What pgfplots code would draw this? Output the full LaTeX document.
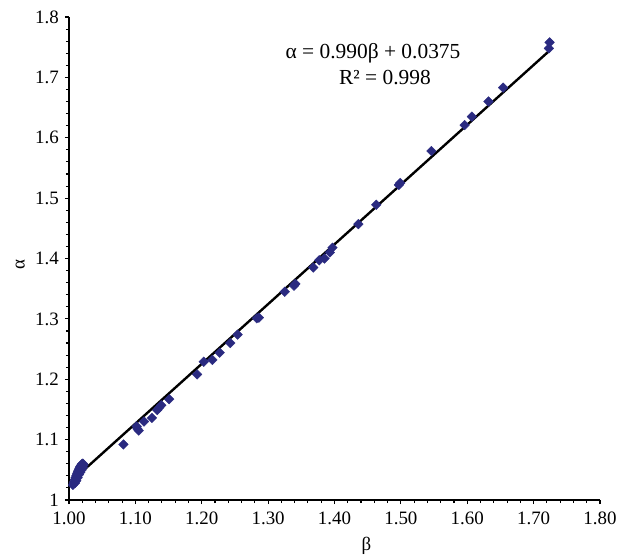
\documentclass[border=0pt]{standalone}
\usepackage{pgfplots}
\pgfplotsset{compat=1.18}
\usepackage{fontspec}
\setmainfont{Liberation Serif}
\definecolor{navy}{RGB}{42,42,128}
\pgfplotstableread{
b a
1.006 1.025
1.007 1.028
1.008 1.031
1.009 1.034
1.010 1.037
1.011 1.040
1.012 1.043
1.013 1.046
1.014 1.048
1.015 1.051
1.016 1.053
1.017 1.055
1.018 1.057
1.019 1.058
1.020 1.060
1.021 1.060
1.022 1.058
1.021 1.054
1.019 1.050
1.017 1.046
1.015 1.042
1.013 1.037
1.011 1.032
1.009 1.028
1.082 1.092
1.102 1.122
1.103 1.118
1.105 1.115
1.113 1.130
1.125 1.136
1.133 1.149
1.136 1.153
1.139 1.157
1.151 1.167
1.193 1.208
1.203 1.229
1.216 1.232
1.227 1.244
1.243 1.260
1.254 1.274
1.283 1.301
1.286 1.302
1.325 1.345
1.339 1.355
1.341 1.358
1.368 1.385
1.377 1.397
1.385 1.400
1.393 1.410
1.397 1.418
1.436 1.457
1.463 1.489
1.497 1.522
1.499 1.525
1.546 1.578
1.596 1.621
1.607 1.635
1.632 1.660
1.654 1.683
1.723 1.748
1.724 1.758
}\pts
\begin{document}
\begin{tikzpicture}
\path[use as bounding box] (-69bp,-56bp) rectangle (554bp,500bp);
\begin{axis}[scale only axis, width=531bp, height=483bp,
  xmin=1, xmax=1.8, ymin=1, ymax=1.8,
  axis x line*=bottom, axis y line*=left,
  axis line style={line width=1.6bp},
  xtick={1,1.1,1.2,1.3,1.4,1.5,1.6,1.7,1.8},
  ytick={1,1.1,1.2,1.3,1.4,1.5,1.6,1.7,1.8},
  minor tick num=4, tick align=outside,
  major tick length=4bp, minor tick length=3bp,
  tick style={black, line width=1.1bp},
  ticklabel style={font=\fontsize{19}{22}\selectfont, inner sep=1bp},
  xticklabel style={yshift=-7bp, /pgf/number format/.cd, fixed, fixed zerofill, precision=2},
  yticklabel style={xshift=-5bp, /pgf/number format/.cd, fixed, precision=1},
  /pgf/number format/assume math mode=true,
  xlabel={β}, ylabel={α},
  label style={font=\fontsize{19}{22}\selectfont},
  xlabel style={at={(axis description cs:0.56,-0.095)}, anchor=center},
  ylabel style={at={(axis description cs:-0.092,0.487)}, anchor=center},
  clip=false]
  \addplot[only marks, mark=square*, mark size=3.4bp, mark options={rotate=45, fill=navy, draw=navy}] table[x=b, y=a] {\pts};
  \addplot[black, line width=2.4bp] coordinates {(1.008,1.0354) (1.724,1.7443)};
  \node[font=\fontsize{21.5}{25}\selectfont] at (axis cs:1.458,1.740) {α = 0.990β + 0.0375};
  \node[font=\fontsize{21.5}{25}\selectfont] at (axis cs:1.476,1.699) {R² = 0.998};
\end{axis}
\end{tikzpicture}
\end{document}
